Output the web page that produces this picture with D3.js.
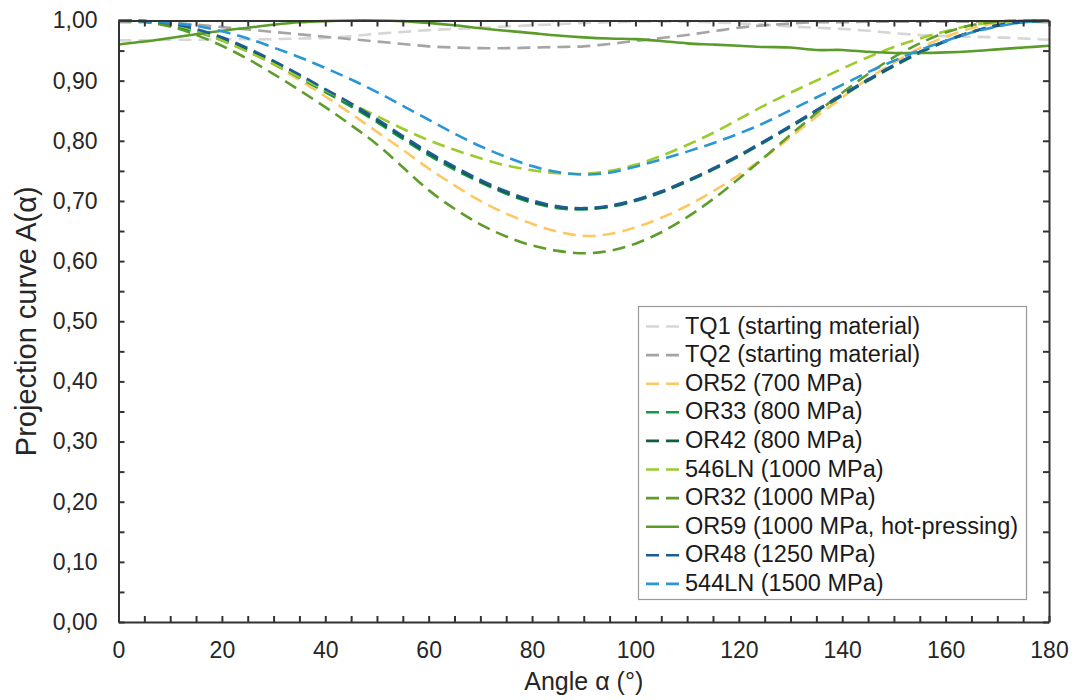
<!DOCTYPE html>
<html><head><meta charset="utf-8">
<script src="https://cdn.jsdelivr.net/npm/d3@7"></script>
<style>
body{margin:0;background:#fff}
text{font-family:Arial,"Liberation Sans",sans-serif}
</style>
</head><body><svg id="c" width="1075" height="700"></svg>
<script>
const angles = [0,5,10,15,20,25,30,35,40,45,50,55,60,65,70,75,80,85,90,95,100,105,110,115,120,125,130,135,140,145,150,155,160,165,170,175,180];
const TQ1 = [0.967,0.967,0.968,0.968,0.969,0.969,0.969,0.970,0.971,0.974,0.978,0.981,0.984,0.986,0.988,0.990,0.992,0.994,0.996,0.997,0.998,0.998,0.998,0.997,0.995,0.993,0.990,0.988,0.986,0.983,0.979,0.976,0.974,0.973,0.972,0.970,0.968];
const TQ2 = [0.997,0.997,0.996,0.993,0.989,0.985,0.981,0.977,0.973,0.969,0.965,0.961,0.957,0.955,0.954,0.954,0.955,0.956,0.957,0.961,0.966,0.971,0.976,0.982,0.988,0.992,0.995,0.997,0.997,0.998,0.998,0.998,0.998,0.998,0.998,0.998,0.997];
const OR52 = [1.000,0.999,0.994,0.984,0.969,0.950,0.927,0.901,0.874,0.845,0.815,0.785,0.754,0.726,0.700,0.679,0.662,0.649,0.642,0.645,0.656,0.672,0.692,0.716,0.743,0.773,0.806,0.840,0.872,0.903,0.930,0.954,0.973,0.987,0.996,1.000,1.000];
const OR33 = [1.000,0.998,0.991,0.981,0.967,0.949,0.928,0.905,0.881,0.857,0.831,0.803,0.776,0.752,0.731,0.712,0.697,0.688,0.686,0.690,0.700,0.714,0.732,0.752,0.774,0.798,0.823,0.849,0.875,0.900,0.924,0.946,0.965,0.980,0.991,0.997,1.000];
const OR42 = [1.000,0.999,0.993,0.984,0.970,0.952,0.931,0.908,0.884,0.860,0.834,0.806,0.779,0.755,0.733,0.714,0.699,0.690,0.687,0.691,0.701,0.715,0.733,0.753,0.775,0.799,0.824,0.850,0.876,0.901,0.925,0.947,0.966,0.981,0.992,0.998,1.000];
const LN546 = [1.000,0.999,0.994,0.983,0.967,0.948,0.928,0.906,0.884,0.862,0.841,0.820,0.801,0.785,0.771,0.759,0.751,0.746,0.745,0.750,0.760,0.775,0.793,0.813,0.836,0.859,0.880,0.900,0.920,0.939,0.956,0.970,0.982,0.992,0.998,1.000,1.000];
const OR32 = [1.000,0.998,0.990,0.976,0.958,0.936,0.911,0.884,0.856,0.826,0.794,0.756,0.718,0.687,0.661,0.641,0.626,0.617,0.613,0.617,0.629,0.648,0.673,0.703,0.737,0.773,0.810,0.846,0.880,0.911,0.939,0.962,0.980,0.992,0.998,1.000,1.000];
const OR59 = [0.960,0.965,0.971,0.977,0.983,0.988,0.993,0.997,0.999,1.000,1.000,0.999,0.996,0.992,0.987,0.983,0.979,0.975,0.972,0.970,0.969,0.966,0.962,0.960,0.958,0.956,0.955,0.951,0.951,0.948,0.946,0.946,0.947,0.949,0.952,0.955,0.958];
const OR48 = [1.000,0.999,0.995,0.986,0.972,0.954,0.933,0.910,0.886,0.862,0.836,0.808,0.781,0.757,0.735,0.716,0.701,0.691,0.688,0.692,0.702,0.716,0.734,0.754,0.776,0.800,0.825,0.851,0.877,0.902,0.926,0.948,0.966,0.981,0.992,0.998,1.000];
const LN544 = [1.000,0.999,0.996,0.991,0.982,0.970,0.955,0.939,0.921,0.902,0.881,0.858,0.835,0.812,0.791,0.773,0.758,0.748,0.744,0.747,0.757,0.769,0.782,0.796,0.812,0.830,0.851,0.872,0.893,0.914,0.933,0.951,0.966,0.980,0.990,0.997,1.000];

const names = ["TQ1 (starting material)","TQ2 (starting material)","OR52 (700 MPa)","OR33 (800 MPa)","OR42 (800 MPa)","546LN (1000 MPa)","OR32 (1000 MPa)","OR59 (1000 MPa, hot-pressing)","OR48 (1250 MPa)","544LN (1500 MPa)"];
const valuesList = [TQ1,TQ2,OR52,OR33,OR42,LN546,OR32,OR59,OR48,LN544];
const colors = ["#d6d6d6","#a5a5a5","#fdc863","#159a4c","#0f5d3a","#9ccb2e","#5f9d2b","#5a9b2a","#1d5c95","#2b96d4"];
const dashed = [true,true,true,true,true,true,true,false,true,true];
const xTicks = [0,5,10,15,20,25,30,35,40,45,50,55,60,65,70,75,80,85,90,95,100,105,110,115,120,125,130,135,140,145,150,155,160,165,170,175,180];
const xLabels = [0,20,40,60,80,100,120,140,160,180];
const yTicks = [0,0.05,0.1,0.15,0.2,0.25,0.3,0.35,0.4,0.45,0.5,0.55,0.6,0.65,0.7,0.75,0.8,0.85,0.9,0.95,1.0];
const yLabels = [0,0.1,0.2,0.3,0.4,0.5,0.6,0.7,0.8,0.9,1.0];

const svg = d3.select("#c");
const L=118.5, R=1049, T=20.5, B=622;
const x = d3.scaleLinear().domain([0,180]).range([L,R]);
const y = d3.scaleLinear().domain([0,1]).range([B,T]);
const fmt = v => d3.format(".2f")(v).replace(".",",");
const isLab = (arr,v) => arr.some(a => Math.abs(a-v)<1e-9);

svg.append("defs").append("clipPath").attr("id","clip")
  .append("rect").attr("x",L).attr("y",T-2).attr("width",R-L).attr("height",B-T+2);

const line = d3.line().x((d,i)=>x(angles[i])).y(d=>y(d)).curve(d3.curveCatmullRom.alpha(0.5));
const g = svg.append("g").attr("clip-path","url(#clip)");
valuesList.forEach((vals,i)=>{
  g.append("path").attr("d",line(vals)).attr("fill","none")
    .attr("stroke",colors[i]).attr("stroke-width",2.6)
    .attr("stroke-dasharray",dashed[i]?"13,7":null);
});

const axisColor="#333";
function style(sel){
  sel.selectAll(".domain").attr("stroke",axisColor).attr("stroke-width",2);
  sel.selectAll(".tick line").attr("stroke",axisColor).attr("stroke-width",2);
  sel.selectAll(".tick text").attr("fill","#262626").style("font-size","23px").style("font-family","Arial, 'Liberation Sans', sans-serif");
}
svg.append("g").attr("transform",`translate(0,${B})`)
  .call(d3.axisBottom(x).tickValues(xTicks).tickSize(-6).tickSizeOuter(0).tickPadding(20)
    .tickFormat(v=>isLab(xLabels,v)?String(v):"")).call(style);
svg.append("g").attr("transform",`translate(0,${T})`)
  .call(d3.axisTop(x).tickValues(xTicks).tickSize(-6).tickSizeOuter(0).tickFormat("")).call(style);
svg.append("g").attr("transform",`translate(${L},0)`)
  .call(d3.axisLeft(y).tickValues(yTicks).tickSize(-6).tickSizeOuter(0).tickPadding(21)
    .tickFormat(v=>isLab(yLabels,v)?fmt(v):"")).call(style);
svg.append("g").attr("transform",`translate(${R},0)`)
  .call(d3.axisRight(y).tickValues(yTicks).tickSize(-6).tickSizeOuter(0).tickFormat("")).call(style);

svg.append("text").attr("x",(L+R)/2).attr("y",690).attr("text-anchor","middle")
  .style("font-size","25px").attr("fill","#262626").text("Angle α (°)");
svg.append("text").attr("transform",`translate(36,${(T+B)/2}) rotate(-90)`).attr("text-anchor","middle")
  .style("font-size","29px").attr("fill","#262626").text("Projection curve A(α)");

// legend
const lg = svg.append("g");
lg.append("rect").attr("x",638.5).attr("y",306.5).attr("width",388).attr("height",293)
  .attr("fill","#fff").attr("stroke","#9a9a9a").attr("stroke-width",1.2);
names.forEach((n,i)=>{
  const by = 333.5 + i*28.6;
  lg.append("line").attr("x1",646).attr("x2",679).attr("y1",by-7).attr("y2",by-7)
    .attr("stroke",colors[i]).attr("stroke-width",2.6)
    .attr("stroke-dasharray",dashed[i]?"13,7":null);
  lg.append("text").attr("x",685).attr("y",by).style("font-size","23.5px").attr("fill","#1a1a1a").text(n);
});
</script>
</body></html>
